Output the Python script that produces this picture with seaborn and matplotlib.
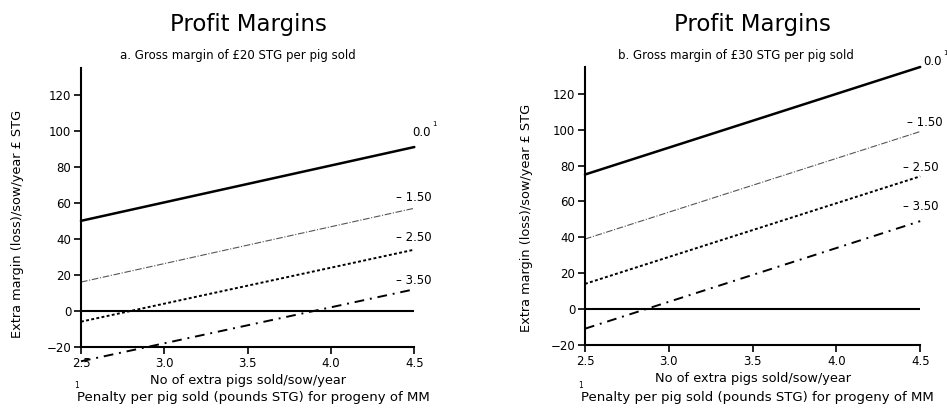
import numpy as np
import pandas as pd
import seaborn as sns
import matplotlib.pyplot as plt

# data (value at 2.5 and at 4.5 extra pigs)
pigs = [2.5, 4.5]
penalties = ['0.0', '1.50', '2.50', '3.50']
margin_20 = {'0.0': [50, 91], '1.50': [16, 57], '2.50': [-6, 34], '3.50': [-28, 12]}
margin_30 = {'0.0': [75, 135], '1.50': [39, 99], '2.50': [14, 74], '3.50': [-11, 49]}

# where the penalty labels sit (data coords)
label_pos_20 = {'0.0': (4.49, 99), '1.50': (4.39, 63), '2.50': (4.39, 41), '3.50': (4.39, 17)}
label_pos_30 = {'0.0': (4.52, 138), '1.50': (4.42, 104), '2.50': (4.40, 79), '3.50': (4.40, 57)}

subtitles = ['a. Gross margin of £20 STG per pig sold',
             'b. Gross margin of £30 STG per pig sold']

styles = {
    '0.0': dict(color='black', lw=1.8, ls='-'),
    '1.50': dict(color='#555555', lw=0.8, ls=(0, (6, 1.5, 1, 1.5))),
    '2.50': dict(color='black', lw=1.4, ls=(0, (1.5, 1.2))),
    '3.50': dict(color='black', lw=1.4, ls=(0, (5, 3, 1, 3))),
}

sns.set_style('ticks')
plt.rcParams['font.family'] = ['DejaVu Sans']
plt.rcParams['text.color'] = 'black'
plt.rcParams['xtick.color'] = 'black'
plt.rcParams['ytick.color'] = 'black'
plt.rcParams['axes.labelcolor'] = 'black'

fig = plt.figure(figsize=(9.47, 4.11), dpi=100)
axes = [fig.add_axes([0.0855, 0.156, 0.352, 0.679]),
        fig.add_axes([0.6177, 0.161, 0.354, 0.676])]

title_x = [248 / 947, 752 / 947]
sub_x = [238 / 947, 736 / 947]
ylabel_xy = [(-0.17, 0.44), (-0.155, 0.457)]

for i, (ax, data, lpos) in enumerate(zip(axes, [margin_20, margin_30],
                                         [label_pos_20, label_pos_30])):
    for p in penalties:
        st = styles[p]
        line = sns.lineplot(x=pigs, y=data[p], ax=ax, color=st['color'],
                            linewidth=st['lw'])
        line.lines[-1].set_linestyle(st['ls'])
        line.lines[-1].set_clip_on(False)
    ax.axhline(0, color='black', lw=1.5)

    for p in penalties:
        x, y = lpos[p]
        txt = p if p == '0.0' else '– ' + p
        ax.text(x, y, txt, fontsize=8.5, ha='left', va='center', clip_on=False)
    x0, y0 = lpos['0.0']
    ax.text(x0 + 0.12, y0 + 5, '1', fontsize=5, ha='left', va='center',
            clip_on=False)

    ax.set_xlim(2.5, 4.5)
    ax.set_ylim(-20, 135)
    ax.set_xticks([2.5, 3.0, 3.5, 4.0, 4.5])
    ax.set_xticklabels(['2.5', '3.0', '3.5', '4.0', '4.5'])
    ax.set_yticks(range(-20, 121, 20))
    ax.tick_params(direction='out', length=5, width=1.2, labelsize=8.5, pad=2)
    sns.despine(ax=ax)
    for s in ['left', 'bottom']:
        ax.spines[s].set_linewidth(1.5)
        ax.spines[s].set_color('black')

    ax.set_xlabel('No of extra pigs sold/sow/year', fontsize=9.3, labelpad=3)
    ax.set_ylabel('Extra margin (loss)/sow/year £ STG', fontsize=9.3)
    ax.yaxis.set_label_coords(*ylabel_xy[i])

    fig.text(title_x[i], 1 - 24 / 411, 'Profit Margins', fontsize=16.5,
             ha='center', va='center')
    fig.text(sub_x[i], 1 - 55 / 411, subtitles[i], fontsize=8.5,
             ha='center', va='center')

# footnotes
for xf in [77 / 947, 581 / 947]:
    fig.text(xf, 0.018, 'Penalty per pig sold (pounds STG) for progeny of MM',
             fontsize=9.5, ha='left', va='bottom')
    fig.text(xf - 0.003, 0.05, '1', fontsize=5.5, ha='left', va='bottom')

fig.savefig('out.png', dpi=100)
